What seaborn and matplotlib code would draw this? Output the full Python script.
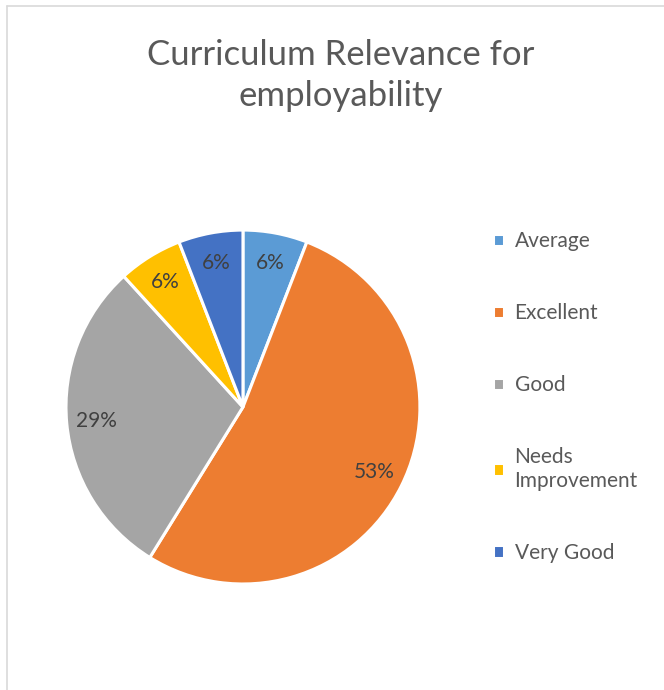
import matplotlib.pyplot as plt
import seaborn as sns
from matplotlib.lines import Line2D

# respuestas por categoría (17 encuestados)
categories = ["Average", "Excellent", "Good", "Needs\nImprovement", "Very Good"]
counts = [1, 9, 5, 1, 1]
colors = ["#5B9BD5", "#ED7D31", "#A5A5A5", "#FFC000", "#4472C4"]

sns.set_theme(style="white")
plt.rcParams["font.family"] = ["Lato", "DejaVu Sans"]

fig = plt.figure(figsize=(6.64, 6.90), dpi=100)
ax = fig.add_axes([0.0994, 0.1536, 0.533, 0.513])

wedges, texts, autotexts = ax.pie(
    counts, colors=sns.color_palette(colors), startangle=90, counterclock=False,
    autopct="%1.0f%%", pctdistance=0.83,
    wedgeprops=dict(edgecolor="white", linewidth=2.2),
    textprops=dict(color="#404040", fontsize=15),
)
ax.set_xlim(-1, 1)
ax.set_ylim(-1, 1)
ax.set_aspect("equal")

fig.text(0.513, 0.891, "Curriculum Relevance for\nemployability", ha="center", va="center",
         fontsize=25, color="#595959", linespacing=1.35)

leg = fig.legend(wedges, categories, loc="upper left", bbox_to_anchor=(0.742, 0.665),
                 frameon=False, borderpad=0, borderaxespad=0, fontsize=15,
                 labelcolor="#595959", handlelength=0.55, handleheight=0.55,
                 handletextpad=0.5, labelspacing=2.5)

# borde gris del área del gráfico
fig.add_artist(Line2D([0.0105, 0.0105], [0, 0.9915], color="#D9D9D9", lw=1.2))
fig.add_artist(Line2D([0.0105, 1], [0.9915, 0.9915], color="#D9D9D9", lw=1.2))

plt.savefig("out.png", dpi=100)
